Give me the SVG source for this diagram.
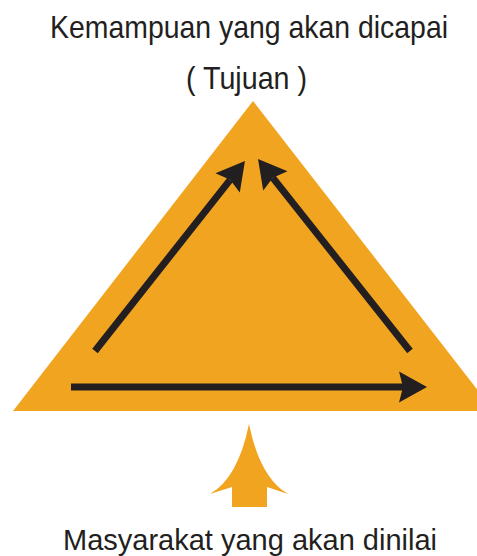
<svg xmlns="http://www.w3.org/2000/svg" width="477" height="556" viewBox="0 0 477 556">
  <style>
    .lbl { font-family: "Liberation Sans Narrow", "Liberation Sans", Arial, sans-serif; fill: #231F20; }
    .orange { fill: #F1A420; }
    .conn { stroke: #231F20; stroke-width: 7; fill: none; marker-end: url(#head); }
  </style>
  <defs>
    <marker id="head" markerUnits="userSpaceOnUse" refX="0" refY="0" markerWidth="40" markerHeight="40" orient="auto" overflow="visible">
      <path d="M24,0 L-4,-15.5 L0,0 L-4,15.5 Z" fill="#231F20"/>
    </marker>
  </defs>
  <rect width="477" height="556" fill="#FFFFFF"/>
  <g id="title">
    <text class="lbl" x="50" y="38" font-size="32" textLength="398" lengthAdjust="spacingAndGlyphs">Kemampuan yang akan dicapai</text>
    <text class="lbl" x="186" y="89" font-size="32" textLength="121" lengthAdjust="spacingAndGlyphs">( Tujuan )</text>
  </g>
  <g id="triangle">
    <polygon class="orange" points="253,101 494,411 13,411"/>
  </g>
  <g id="connectors">
    <line class="conn" x1="95" y1="351" x2="230.1" y2="179.8"/>
    <line class="conn" x1="410" y1="351" x2="272.9" y2="177.8"/>
    <line class="conn" x1="71" y1="387" x2="403" y2="387"/>
  </g>
  <g id="input-arrow">
    <path class="orange" d="M249,424 Q238,478 210,494 L232,487 L232,507 L267,507 L267,487 L288,494 Q260,478 249,424 Z"/>
  </g>
  <g id="bottom-label">
    <text class="lbl" x="63" y="550" font-size="29" textLength="374" lengthAdjust="spacingAndGlyphs">Masyarakat yang akan dinilai</text>
  </g>
</svg>
